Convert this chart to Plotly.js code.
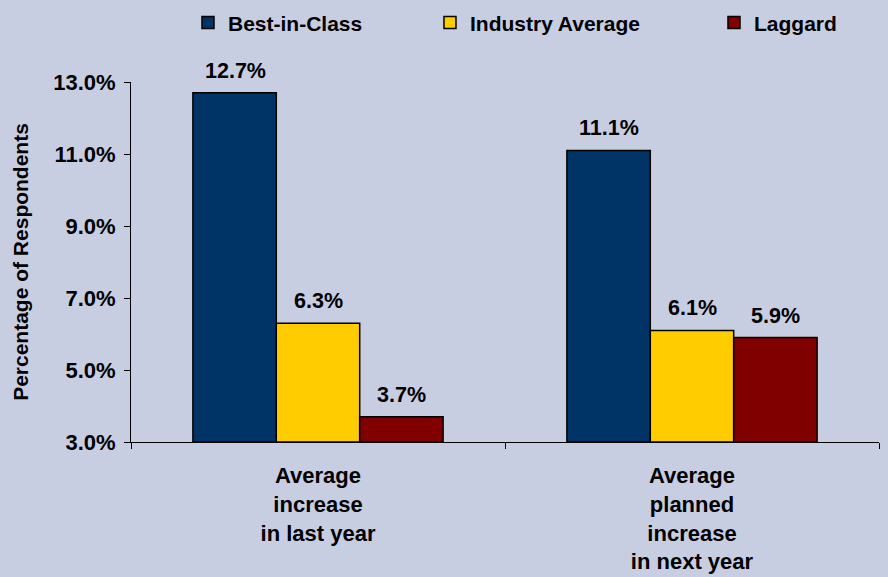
<!DOCTYPE html>
<html>
<head>
<meta charset="utf-8">
<script src="https://cdn.plot.ly/plotly-3.0.1.min.js"></script>
<style>html,body{margin:0;padding:0;background:#C8CEE2;}#chart{width:888px;height:577px;}</style>
</head>
<body>
<div id="chart"></div>
<script>
var categories = ["Average<br>increase<br>in last year", "Average<br>planned<br>increase<br>in next year"];
var seriesNames = ["Best-in-Class", "Industry Average", "Laggard"];
var bestInClass = [12.7, 11.1];
var industryAverage = [6.3, 6.1];
var laggard = [3.7, 5.9];
var seriesColors = ["#003366", "#FFCC00", "#800000"];
var yTickVals = [3, 5, 7, 9, 11, 13];
var axisMin = 3;

var FONT = "Arial, 'Liberation Sans', sans-serif";
var seriesValues = [bestInClass, industryAverage, laggard];
var legendIds = ["legend", "legend2", "legend3"];

var traces = seriesValues.map(function (vals, i) {
  return {
    type: "bar",
    name: seriesNames[i],
    x: categories,
    y: vals.map(function (v) { return v - axisMin; }),
    base: axisMin,
    marker: { color: seriesColors[i], line: { color: "#000000", width: 1.5 } },
    legend: legendIds[i],
    hoverinfo: "skip"
  };
});

var annotations = [];
var barPx = 83;
seriesValues.forEach(function (vals, i) {
  vals.forEach(function (v, j) {
    annotations.push({
      x: categories[j], y: v, xref: "x", yref: "y",
      text: v.toFixed(1) + "%",
      showarrow: false, yanchor: "bottom", xanchor: "center",
      xshift: (i - 1) * barPx, yshift: 8,
      font: { family: FONT, size: 21.5, color: "#000000", weight: "bold" }
    });
  });
});

var legendFont = { family: FONT, size: 21, color: "#000000", weight: "bold" };
function legendAt(x) {
  return { orientation: "h", x: x, xanchor: "left", y: 1.164, yanchor: "middle",
           bgcolor: "rgba(0,0,0,0)", font: legendFont, itemwidth: 30 };
}

var layout = {
  width: 888, height: 577,
  paper_bgcolor: "#C8CEE2", plot_bgcolor: "#C8CEE2",
  margin: { l: 131, r: 9, t: 82, b: 135, pad: 0, autoexpand: false },
  barmode: "group", bargap: 0.331, bargroupgap: 0,
  showlegend: true,
  legend: legendAt(0.0762),
  legend2: legendAt(0.3997),
  legend3: legendAt(0.7794),
  xaxis: {
    showline: true, linecolor: "#000000", linewidth: 1,
    ticks: "outside", ticklen: 6, tickcolor: "#000000", tickson: "boundaries",
    showgrid: false, zeroline: false,
    tickfont: { family: FONT, size: 22, color: "#000000", weight: "bold" },
    ticklabelstandoff: 14
  },
  yaxis: {
    range: [3, 13], showline: true, linecolor: "#000000", linewidth: 1,
    tickvals: yTickVals,
    ticktext: yTickVals.map(function (v) { return v.toFixed(1) + "%"; }),
    ticks: "outside", ticklen: 6, tickcolor: "#000000",
    showgrid: false, zeroline: false, ticklabelstandoff: 4,
    tickfont: { family: FONT, size: 22, color: "#000000", weight: "bold" },
    title: { text: "Percentage of Respondents", standoff: 18,
             font: { family: FONT, size: 21, color: "#000000", weight: "bold" } }
  },
  annotations: annotations
};

Plotly.newPlot("chart", traces, layout, { displayModeBar: false, staticPlot: true });
</script>
</body>
</html>
